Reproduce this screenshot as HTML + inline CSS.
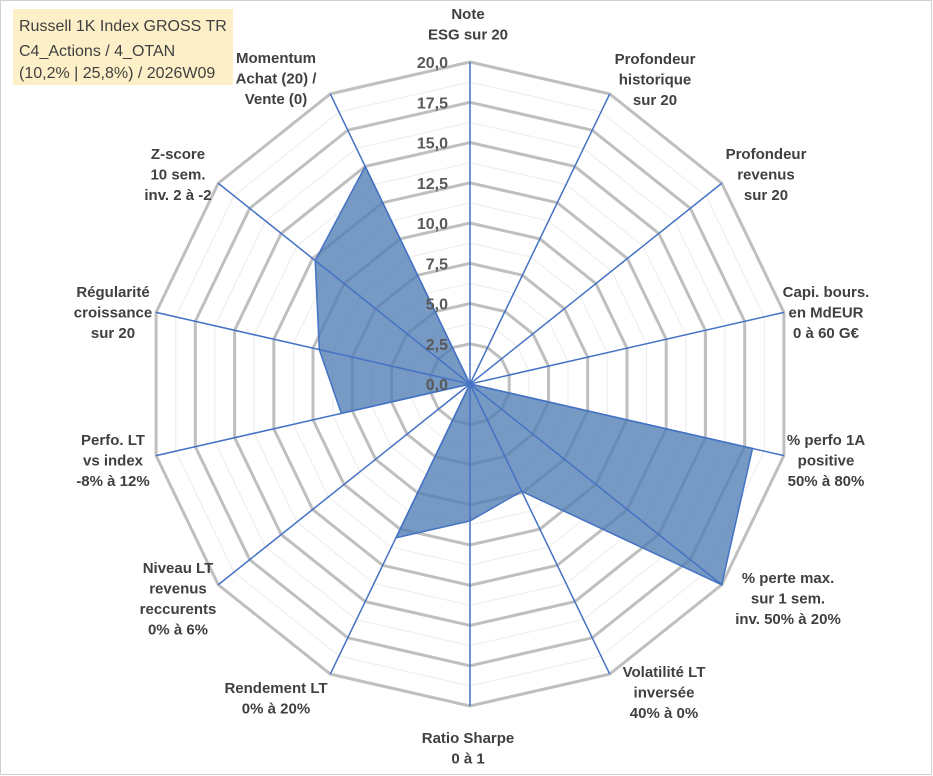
<!DOCTYPE html>
<html><head><meta charset="utf-8">
<style>
body{margin:0;background:#fff;}
#wrap{position:relative;width:933px;height:776px;overflow:hidden;}
svg text{font-family:"Liberation Sans",Arial,sans-serif;}
.lbl{font-size:15px;font-weight:bold;fill:#404040;}
.tick{font-size:16px;font-weight:bold;fill:#595959;}
</style></head>
<body>
<div id="wrap">
<svg id="chart" width="933" height="776">
<rect x="0.5" y="0.5" width="931" height="774" fill="#fff" stroke="#d0d0d0"/>
<rect x="13" y="9" width="220" height="76" fill="#fdefc8"/>
<text x="19" y="31" font-size="16" fill="#404040">Russell 1K Index GROSS TR</text>
<text x="19" y="56" font-size="16" fill="#404040">C4_Actions / 4_OTAN</text>
<text x="19" y="78" font-size="16" fill="#404040">(10,2% | 25,8%) / 2026W09</text>
<g id="grid"></g><g id="series"></g><g id="axes"></g><g id="ticks"></g><g id="labels"></g>
</svg>
</div>
<script>
const categories=["Note ESG","Profondeur historique","Profondeur revenus","Capi. bours.","% perfo 1A","% perte max.","Volatilité LT","Ratio Sharpe","Rendement LT","Niveau LT","Perfo. LT","Régularité","Z-score","Momentum"];
const values=[0,0,0,0,18,20,7.4,8.5,10.6,0,8.2,9.6,12.3,15];
const tickValues=[0,2.5,5,7.5,10,12.5,15,17.5,20];
const tickLabels=["0,0","2,5","5,0","7,5","10,0","12,5","15,0","17,5","20,0"];
const labelLines=[["Note","ESG sur 20"],["Profondeur","historique","sur 20"],["Profondeur","revenus","sur 20"],["Capi. bours.","en MdEUR","0 à 60 G€"],["% perfo 1A","positive","50% à 80%"],["% perte max.","sur 1 sem.","inv. 50% à 20%"],["Volatilité LT","inversée","40% à 0%"],["Ratio Sharpe","0 à 1"],["Rendement LT","0% à 20%"],["Niveau LT","revenus","reccurents","0% à 6%"],["Perfo. LT","vs index","-8% à 12%"],["Régularité","croissance","sur 20"],["Z-score","10 sem.","inv. 2 à -2"],["Momentum","Achat (20) /","Vente (0)"]];
const CX=470,CY=384,R=322,MAX=20;
const N=categories.length;
const NS="http://www.w3.org/2000/svg";
// label layout: center x, first line center y
const labelPos=[[468,14],[655,59],[766,154],[826,292],[826,440],[788,578],[664,672],[468,738],[276,688],[178,568],[113,440],[113,292],[178,154],[276,58]];
function ang(i){return i*2*Math.PI/N;}
function px(i,v){return CX+Math.sin(ang(i))*v/MAX*R;}
function py(i,v){return CY-Math.cos(ang(i))*v/MAX*R;}
function mk(tag,attrs,parent){const e=document.createElementNS(NS,tag);for(const k in attrs)e.setAttribute(k,attrs[k]);parent.appendChild(e);return e;}
const grid=document.getElementById('grid');
for(let t=1.25;t<=MAX+0.01;t+=1.25){
 const major=Math.abs(t/2.5-Math.round(t/2.5))<0.01;
 let pts=[];for(let i=0;i<N;i++)pts.push(px(i,t).toFixed(1)+","+py(i,t).toFixed(1));
 const p=mk('polygon',{points:pts.join(' '),fill:'none',stroke:major?'#bfbfbf':'#ececec','stroke-width':major?3:1},grid);
 
 
}
const ser=document.getElementById('series');
let sp=[];for(let i=0;i<N;i++)sp.push(px(i,values[i]).toFixed(1)+","+py(i,values[i]).toFixed(1));
const poly=mk('polygon',{points:sp.join(' '),fill:'#4f7db3','fill-opacity':0.78,stroke:'#4472c4','stroke-width':1.5},ser);


const ax=document.getElementById('axes');
for(let i=0;i<N;i++){
 const l=mk('line',{x1:CX,y1:CY,x2:px(i,MAX),y2:py(i,MAX),stroke:'#4472c4','stroke-width':1.5},ax);
 
 
}
const tk=document.getElementById('ticks');
tickValues.forEach((v,j)=>{
 const t=mk('text',{x:CX-22,y:py(0,v)+6,'text-anchor':'end',class:'tick'},tk);
 t.textContent=tickLabels[j];
 
 
});
const lb=document.getElementById('labels');
for(let i=0;i<N;i++){
 const lines=labelLines[i];const lh=20.5;
 const lx=labelPos[i][0],top=labelPos[i][1];
 const g=mk('text',{class:'lbl','text-anchor':'middle'},lb);
 
 
 lines.forEach((ln,k)=>{const ts=mk('tspan',{x:lx,y:(top+k*lh+5).toFixed(1)},g);ts.textContent=ln;});
}
</script>
</body></html>
